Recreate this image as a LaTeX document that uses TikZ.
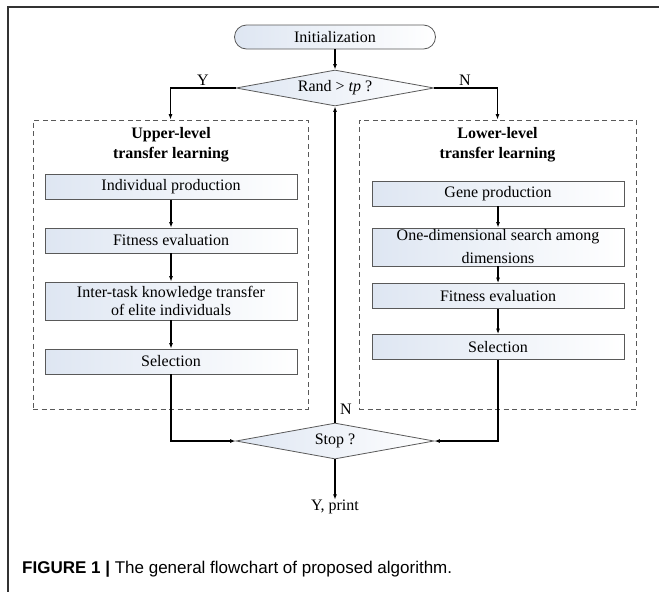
\documentclass[tikz,border=0pt]{standalone}
\usepackage{fontspec}
\setmainfont{Liberation Serif}
\newfontfamily\capfont{Liberation Sans}
\usetikzlibrary{shapes.geometric,arrows.meta,positioning}
\definecolor{boxtint}{RGB}{222,230,242}
\tikzset{
  txt/.style={font=\fontsize{16}{17}\selectfont},
  procbox/.style={txt,draw=gray!70!black,line width=0.8pt,left color=boxtint,right color=white,minimum width=252pt,inner sep=1pt,align=center},
  decide/.style={txt,draw=gray!70!black,line width=0.8pt,diamond,aspect=5.6,inner sep=0pt,left color=boxtint,right color=white,minimum width=198pt,minimum height=36pt},
  groupbox/.style={draw=gray!70!black,dashed,dash pattern=on 5pt off 3.5pt,line width=0.8pt},
  conn/.style={line width=1.4pt,-{Latex[length=5.5pt,width=4pt]}},
  lbl/.style={txt,inner sep=0pt}
}
\begin{document}
\begin{tikzpicture}[x=1pt,y=-1pt]
\useasboundingbox (0,0) rectangle (659,592);
% frame
\draw[line width=1.5pt,gray!40!black] (659,7) -- (8,7) -- (8,592);
% group boxes
\node[groupbox,minimum width=275pt,minimum height=289pt,inner sep=0pt] (ubox) at (170.5,264.5) {};
\node[groupbox,minimum width=277pt,minimum height=289pt,inner sep=0pt] (lbox) at (497.5,264.5) {};
\node[txt,font=\fontsize{16}{20}\selectfont\bfseries,align=center] (utitle) at (171,145) {Upper-level\\transfer learning};
\node[txt,font=\fontsize{16}{20}\selectfont\bfseries,align=center] (ltitle) at (497.5,145) {Lower-level\\transfer learning};
% start
\node[txt,draw=gray!70!black,line width=0.8pt,rounded corners=12pt,left color=boxtint,right color=white,minimum width=201pt,minimum height=24pt] (init) at (335,37) {Initialization};
\node[decide] (rand) at (335,88) {Rand > \textit{tp} ?};
\node[decide] (stop) at (335,441) {Stop ?};
\node[lbl] (yprint) at (335,507) {Y, print};
% left column
\node[procbox,minimum height=25pt] (ind) at (171,187) {Individual production};
\node[procbox,minimum height=25pt] (ufit) at (171,240.5) {Fitness evaluation};
\node[procbox,minimum height=38pt,font=\fontsize{16}{18.5}\selectfont] (inter) at (171,301) {Inter-task knowledge transfer\\of elite individuals};
\node[procbox,minimum height=25pt] (usel) at (171,361.5) {Selection};
% right column
\node[procbox,minimum height=25pt] (gene) at (498,193.5) {Gene production};
\node[procbox,minimum height=38pt,font=\fontsize{16}{23}\selectfont] (onedim) at (498,247) {One-dimensional search among\\dimensions};
\node[procbox,minimum height=25pt] (lfit) at (498,296) {Fitness evaluation};
\node[procbox,minimum height=25pt] (lsel) at (498,347) {Selection};
% connectors
\draw[conn] (init) -- (rand);
\draw[conn] (rand.west) -| (ubox.north);
\draw[conn] (rand.east) -| (lbox.north);
\node[lbl] (ylab) at (203,80) {Y};
\node[lbl] (nlab) at (465,80) {N};
\draw[conn] (ind) -- (ufit);
\draw[conn] (ufit) -- (inter);
\draw[conn] (inter) -- (usel);
\draw[conn] (gene) -- (onedim);
\draw[conn] (onedim) -- (lfit);
\draw[conn] (lfit) -- (lsel);
\draw[conn] (usel.south) |- (stop.west);
\draw[conn] (lsel.south) |- (stop.east);
\draw[conn] (stop.north) -- (rand.south);
\node[lbl] (nstop) at (346,409) {N};
\draw[conn] (stop.south) -- (yprint.north);
% caption
\node[anchor=base west,inner sep=0pt,font=\capfont\fontsize{17}{19}\selectfont] (cap) at (22,573) {\textbf{FIGURE 1 |} The general flowchart of proposed algorithm.};
\end{tikzpicture}
\end{document}
